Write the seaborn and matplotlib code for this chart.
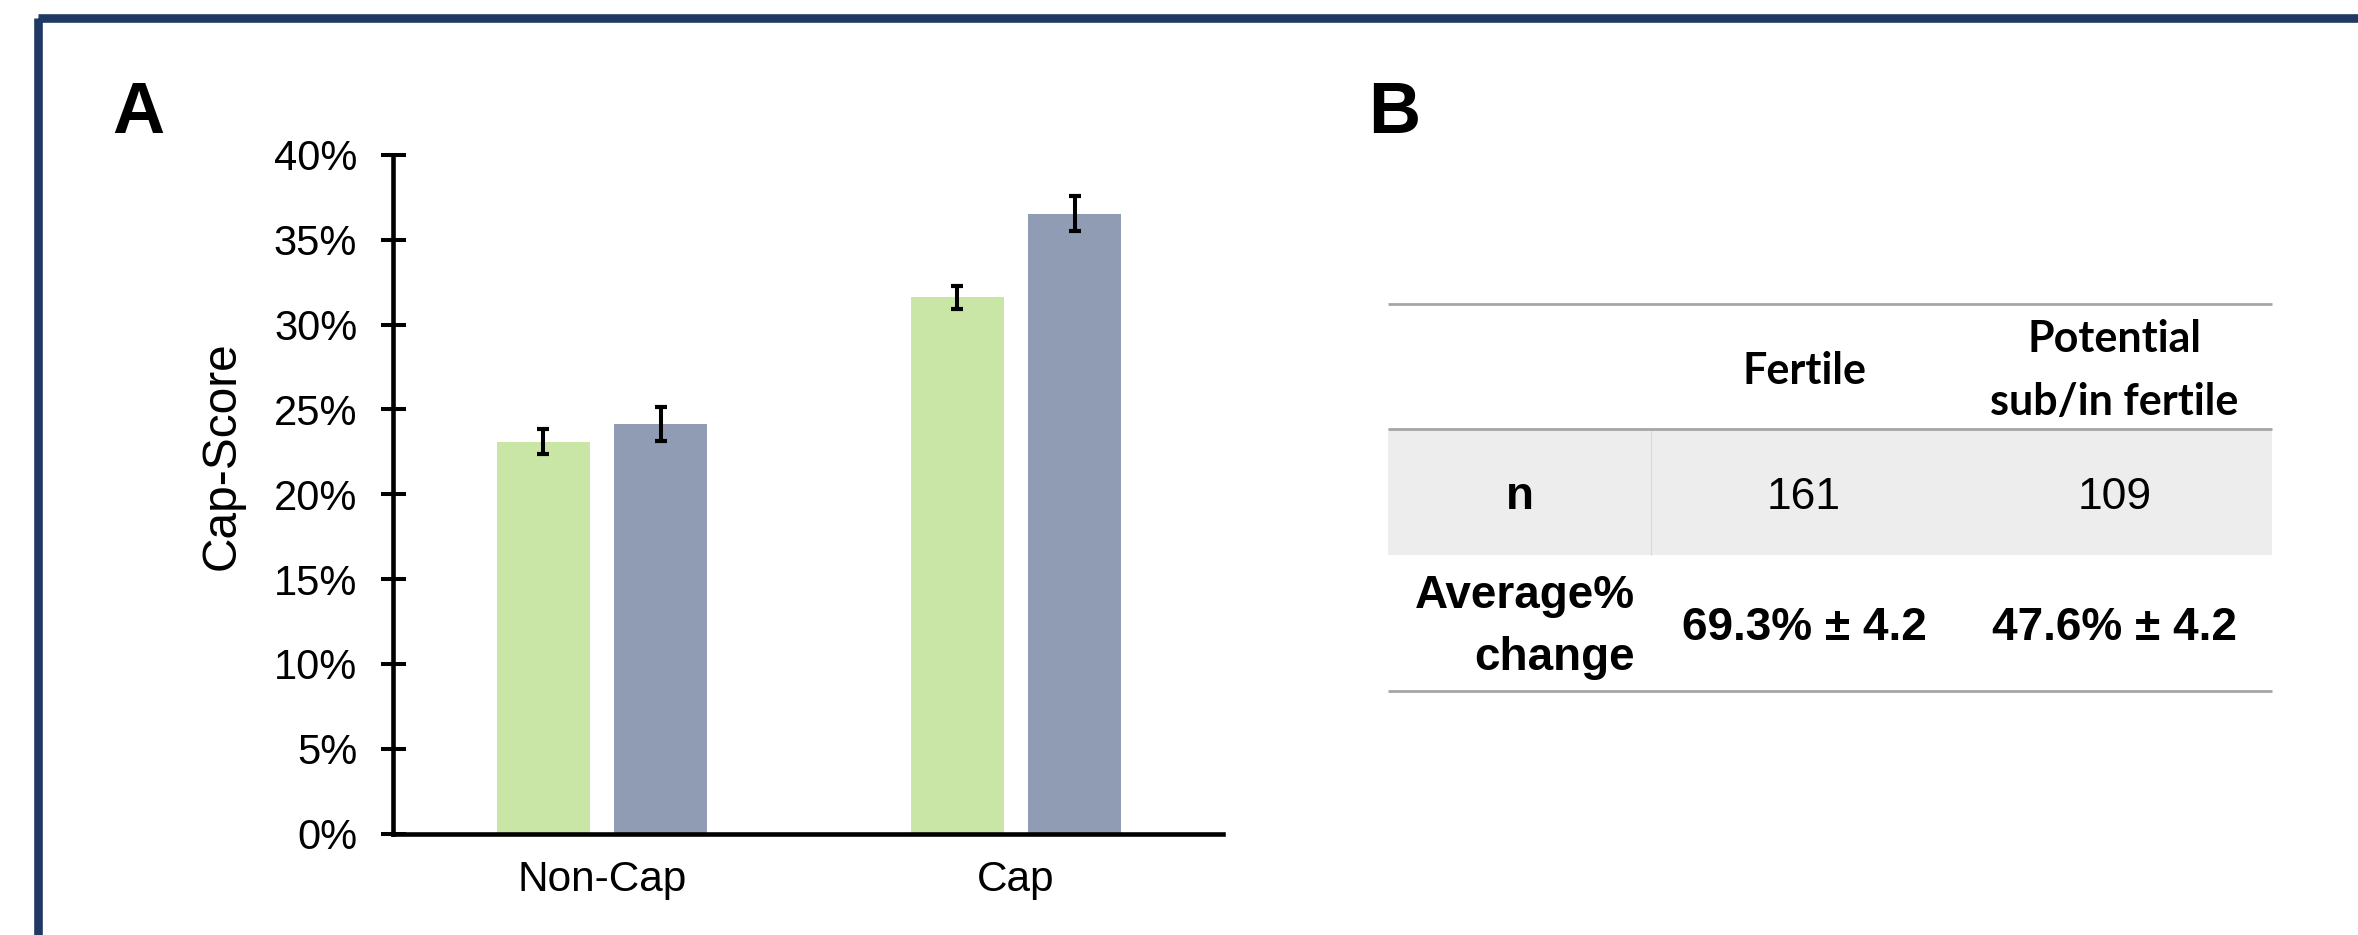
import matplotlib
matplotlib.use("Agg")
import matplotlib.pyplot as plt
import numpy as np
import pandas as pd
import seaborn as sns
from matplotlib.patches import Rectangle
from matplotlib.ticker import FuncFormatter

# ---- data -------------------------------------------------------------
conditions = ["Non-Cap", "Cap"]
groups = ["Fertile", "Potential sub/in fertile"]
fertile_score = [23.1, 31.6]          # Cap-Score, %
infertile_score = [24.15, 36.55]
fertile_err = [0.74, 0.70]
infertile_err = [1.01, 1.04]
y_ticks = [0, 5, 10, 15, 20, 25, 30, 35, 40]

table_row_labels = [["n"], ["Average%", "change"]]
table_col_labels = [["Fertile"], ["Potential", "sub/in fertile"]]
n_values = [161, 109]
avg_change = [69.3, 47.6]
avg_change_sd = [4.2, 4.2]

# ---- style ------------------------------------------------------------
GREEN = "#C9E6A6"
BLUE = "#8F9CB3"
NAVY = "#1F3864"
RULE = "#A6A6A6"
SHADE = "#EDEDED"

sns.set_theme(style="white")
plt.rcParams["font.family"] = ["Liberation Sans", "DejaVu Sans"]
plt.rcParams["text.color"] = "black"

W, H = 2358, 935
fig = plt.figure(figsize=(W / 100, H / 100), dpi=100)
fig.patch.set_facecolor("white")

# full-figure overlay in pixel units for the frame, panel letters and table
deco = fig.add_axes([0, 0, 1, 1], zorder=0)
deco.set_xlim(0, W)
deco.set_ylim(H, 0)
deco.axis("off")

# ---- panel A: bar chart ----------------------------------------------
ax_l, ax_r, ax_t, ax_b = 393.3, 1223.0, 155.0, 833.5
ax = fig.add_axes([ax_l / W, 1 - ax_b / H, (ax_r - ax_l) / W, (ax_b - ax_t) / H], zorder=1)

df = pd.DataFrame({
    "condition": conditions * 2,
    "group": [groups[0]] * len(conditions) + [groups[1]] * len(conditions),
    "score": fertile_score + infertile_score,
})

sns.barplot(
    data=df, x="condition", y="score", hue="group",
    order=conditions, hue_order=groups, palette=[GREEN, BLUE],
    saturation=1, width=0.569, gap=0.211, errorbar=None,
    legend=False, linewidth=0, ax=ax,
)

for cont, errs in zip(ax.containers, [fertile_err, infertile_err]):
    xs = [b.get_x() + b.get_width() / 2 for b in cont]
    hs = [b.get_height() for b in cont]
    ax.errorbar(xs, hs, yerr=errs, fmt="none", ecolor="black",
                elinewidth=2.9, capsize=4.4, capthick=3.0, zorder=3)

ax.set_xlim(-0.504, 1.5)
ax.set_ylim(0, 40)
ax.set_yticks(y_ticks)
ax.yaxis.set_major_formatter(FuncFormatter(lambda v, p: f"{v:.0f}%"))
ax.set_xlabel("")
ax.set_ylabel("Cap-Score", fontsize=34.5, color="black")
ax.yaxis.set_label_coords(-0.1787, 0.5564)

sns.despine(ax=ax)
for side in ("left", "bottom"):
    ax.spines[side].set_color("black")
    ax.spines[side].set_linewidth(3.3)
ax.tick_params(axis="y", direction="inout", length=18, width=2.9,
               pad=17, labelsize=30, colors="black", left=True)
ax.tick_params(axis="x", length=0, pad=19, labelsize=30.5, colors="black")
ax.set_facecolor("white")

# ---- frame and panel letters -----------------------------------------
deco.add_patch(Rectangle((37.5, 17.5), W, H, fill=False, edgecolor=NAVY,
                         linewidth=6.2, joinstyle="round", clip_on=False))
deco.text(112, 133, "A", fontsize=52, fontweight="bold", ha="left", va="baseline")
deco.text(1368, 133, "B", fontsize=52, fontweight="bold", ha="left", va="baseline")

# ---- panel B: summary table ------------------------------------------
col_edges = [1388, 1651, 1957, 2272]
row_edges = [304, 429, 555, 691]
col_centers = [(col_edges[i] + col_edges[i + 1]) / 2 for i in range(3)]

deco.add_patch(Rectangle((col_edges[0], row_edges[1]), col_edges[-1] - col_edges[0],
                         row_edges[2] - row_edges[1], facecolor=SHADE, edgecolor="none"))
deco.plot([col_edges[1], col_edges[1]], [row_edges[1], row_edges[2]], color="#D9D9D9", lw=0.8)
for y in (row_edges[0], row_edges[1], row_edges[3]):
    deco.plot([col_edges[0], col_edges[-1]], [y, y], color=RULE, lw=2.0,
              solid_capstyle="butt")

head_font = dict(family=["Lato", "DejaVu Sans"], fontsize=31, fontweight="bold")
# header cells
deco.text(col_centers[1], 384, table_col_labels[0][0], ha="center", va="baseline", **head_font)
for line, base in zip(table_col_labels[1], [352, 415]):
    deco.text(col_centers[2], base, line, ha="center", va="baseline", **head_font)

# row "n"
deco.text(col_centers[0], 509, table_row_labels[0][0], ha="center", va="baseline",
          fontsize=33, fontweight="bold")
for c, v in zip(col_centers[1:], n_values):
    deco.text(c, 509, f"{v}", ha="center", va="baseline", fontsize=32)

# row "Average% change"
for line, base in zip(table_row_labels[1], [608, 670]):
    deco.text(1635, base, line, ha="right", va="baseline", fontsize=33, fontweight="bold")
for c, m, s in zip(col_centers[1:], avg_change, avg_change_sd):
    deco.text(c, 640, f"{m:.1f}% \u00b1 {s:.1f}", ha="center", va="baseline",
              fontsize=33, fontweight="bold")

fig.savefig("out.png", dpi=100, facecolor="white")
